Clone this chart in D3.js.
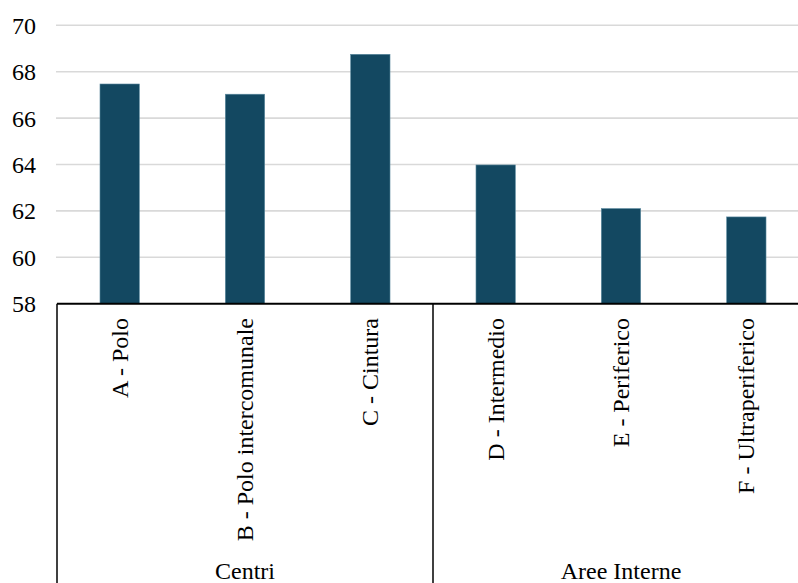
<!DOCTYPE html>
<html><head><meta charset="utf-8">
<script src="https://cdn.jsdelivr.net/npm/d3@7"></script>
<style>html,body{margin:0;padding:0;background:#fff;overflow:hidden}</style>
</head><body>
<svg id="c" width="798" height="583"></svg>
<script>
const categories = ["A - Polo","B - Polo intercomunale","C - Cintura","D - Intermedio","E - Periferico","F - Ultraperiferico"];
const values = [67.47, 67.03, 68.75, 63.98, 62.1, 61.74];
const groups = ["Centri","Aree Interne"];
const groupOf = ["Centri","Centri","Centri","Aree Interne","Aree Interne","Aree Interne"];
const yTicks = [58,60,62,64,66,68,70];

(function(){
const svg = d3.select("#c");
const font = "'Liberation Serif','Times New Roman',serif";
const pLeft = 57, pRight = 809, pTop = 25.3, pBottom = 303.7;
const x = d3.scaleBand().domain(categories).range([pLeft, pRight]).paddingInner(0.686).paddingOuter(0.343);
const y = d3.scaleLinear().domain([58,70]).range([pBottom, pTop]);

// gridlines
svg.append("g").selectAll("line").data(yTicks.filter(t=>t>58)).join("line")
  .attr("x1", pLeft-1).attr("x2", 798).attr("y1", d=>y(d)).attr("y2", d=>y(d))
  .attr("stroke", "#d9d9d9").attr("stroke-width", 1.6);

// y tick labels
svg.append("g").selectAll("text").data(yTicks).join("text")
  .attr("x", 36).attr("y", d=>y(d)).attr("dy","0.35em")
  .attr("text-anchor","end").attr("font-family", font).attr("font-size", 24)
  .attr("fill","#000").text(d=>d);

// bars
svg.append("g").selectAll("rect").data(values).join("rect")
  .attr("x", (d,i)=>x(categories[i])).attr("width", x.bandwidth())
  .attr("y", d=>y(d)).attr("height", d=>y(58)-y(d))
  .attr("fill", "#134861").attr("stroke","#5c8aa0").attr("stroke-width",0.6);

// axis line
svg.append("line").attr("x1", pLeft).attr("x2", 798).attr("y1", pBottom).attr("y2", pBottom)
  .attr("stroke","#000").attr("stroke-width",2);

// group separators
const half = x.step()*x.paddingInner()/2;
const groupStarts = groups.map(g => x(categories[groupOf.indexOf(g)]) - half);
const sepX = [pLeft, ...groupStarts.slice(1)];
svg.append("g").selectAll("line").data(sepX).join("line")
  .attr("x1", d=>d).attr("x2", d=>d).attr("y1", pBottom).attr("y2", 583)
  .attr("stroke","#000").attr("stroke-width",1.5);

// category labels
svg.append("g").selectAll("text").data(categories).join("text")
  .attr("transform", d=>`translate(${x(d)+x.bandwidth()/2},318) rotate(-90)`)
  .attr("dy","0.33em").attr("text-anchor","end")
  .attr("font-family", font).attr("font-size", 24).attr("fill","#000").text(d=>d);

// group labels
const groupCenter = g => {
  const idx = categories.map((c,i)=>i).filter(i=>groupOf[i]===g);
  const a = x(categories[idx[0]]) - half;
  const b = x(categories[idx[idx.length-1]]) + x.bandwidth() + half;
  return (a+b)/2;
};
svg.append("g").selectAll("text").data(groups).join("text")
  .attr("x", d=>groupCenter(d)).attr("y", 579)
  .attr("text-anchor","middle").attr("font-family", font).attr("font-size", 24)
  .attr("fill","#000").text(d=>d);
})();
</script>
</body></html>
